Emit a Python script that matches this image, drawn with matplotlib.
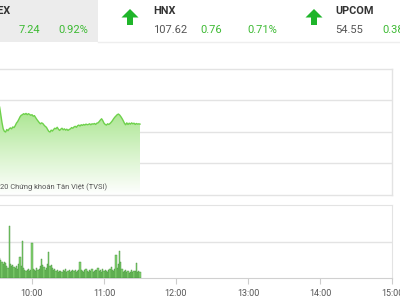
import matplotlib
matplotlib.use("Agg")
import matplotlib.pyplot as plt
import numpy as np
from matplotlib.colors import LinearSegmentedColormap
from matplotlib.patches import Polygon, Rectangle

plt.rcParams['font.family'] = ['Roboto', 'DejaVu Sans']

# ---------------- data ----------------
line_times = ["9:15", "9:20", "9:25", "9:30", "9:33", "9:34", "9:35", "9:36", "9:37", "9:38", "9:39", "9:40",
              "9:41", "9:42", "9:43", "9:44", "9:45", "9:46", "9:47", "9:48", "9:49", "9:50", "9:51", "9:52",
              "9:53", "9:54", "9:55", "9:56", "9:57", "9:58", "9:59", "10:00", "10:01", "10:02", "10:03",
              "10:04", "10:05", "10:06", "10:07", "10:08", "10:09", "10:10", "10:11", "10:12", "10:13",
              "10:14", "10:15", "10:16", "10:17", "10:18", "10:19", "10:20", "10:21", "10:22", "10:23",
              "10:24", "10:25", "10:26", "10:27", "10:28", "10:29", "10:30", "10:31", "10:32", "10:33",
              "10:34", "10:35", "10:36", "10:37", "10:38", "10:39", "10:40", "10:41", "10:42", "10:43",
              "10:44", "10:45", "10:46", "10:47", "10:48", "10:49", "10:50", "10:51", "10:52", "10:53",
              "10:54", "10:55", "10:56", "10:57", "10:58", "10:59", "11:00", "11:01", "11:02", "11:03",
              "11:04", "11:05", "11:06", "11:07", "11:08", "11:09", "11:10", "11:11", "11:12", "11:13",
              "11:14", "11:15", "11:16", "11:17", "11:18", "11:19", "11:20", "11:21", "11:22", "11:23",
              "11:24", "11:25", "11:26", "11:27", "11:28", "11:29", "11:30"]
line_values = [786.0, 788.5, 789.5, 789.5, 788.0, 785.5, 783.0, 781.0, 780.2, 780.0, 780.8, 780.4,
               781.0, 781.3, 781.0, 781.6, 781.4, 782.0, 782.8, 783.3, 784.0, 784.8, 785.3, 785.5,
               785.8, 785.6, 785.9, 785.5, 785.8, 785.6, 785.3, 785.5, 785.0, 785.2, 784.6,
               784.0, 783.5, 783.0, 782.6, 782.9, 782.7, 782.2, 781.8, 781.5, 780.8,
               780.2, 780.0, 780.6, 780.3, 780.8, 781.2, 781.0, 781.5, 780.9, 780.5,
               780.9, 781.2, 780.7, 781.0, 780.6, 780.9, 780.5, 780.8, 781.0, 781.4,
               781.2, 781.6, 781.8, 781.5, 782.0, 782.2, 781.9, 782.3, 782.1, 782.4,
               782.2, 782.5, 782.3, 782.4, 782.6, 782.3, 782.6, 782.5, 782.7, 782.4,
               782.8, 782.9, 783.3, 783.8, 784.2, 783.6, 782.8, 782.4, 782.2, 782.6,
               782.4, 782.7, 783.1, 783.6, 784.2, 784.7, 785.1, 785.5, 785.7, 785.4,
               784.9, 784.3, 783.6, 782.8, 782.3, 782.9, 782.4, 782.8, 782.5, 782.9,
               782.6, 782.8, 782.4, 782.7, 782.5, 782.6, 782.5]

vol_start = "9:33"
volumes = [55, 49, 44, 38, 44, 41, 33, 27, 142, 38,
           33, 36, 30, 27, 33, 25, 38, 58, 33, 101,
           27, 22, 19, 22, 25, 19, 22, 96, 25, 22,
           19, 27, 22, 25, 33, 52, 36, 30, 22, 27,
           38, 71, 33, 36, 27, 22, 25, 19, 22, 16,
           19, 19, 16, 22, 19, 25, 16, 19, 22, 16,
           19, 22, 19, 22, 16, 19, 22, 44, 22, 19,
           16, 22, 25, 19, 16, 22, 19, 25, 16, 19,
           22, 22, 27, 19, 22, 16, 25, 19, 22, 19,
           16, 22, 25, 30, 22, 19, 25, 63, 27, 38,
           74, 44, 25, 16, 19, 22, 16, 19, 14, 16,
           22, 16, 19, 19, 41, 16, 19, 16]

tick_labels = ["10:00", "11:00", "12:00", "13:00", "14:00", "15:00"]

header_names = ["VN-INDEX", "HNX", "UPCOM"]
header_values = ["", "107.62", "54.55"]
header_changes = ["7.24", "0.76", "0.38"]
header_pcts = ["0.92%", "0.71%", "0.70%"]

credit_prefix = "© 20"
credit_rest = "20 Chứng khoán Tân Việt (TVSI)"


def to_min(s):
    h, m = s.split(":")
    return int(h) * 60 + int(m)


lt = np.array([to_min(s) for s in line_times], dtype=float)
lv = np.array(line_values)
vt = to_min(vol_start) + np.arange(len(volumes))
ticks = [to_min(s) for s in tick_labels]

W, H = 400, 300
fig = plt.figure(figsize=(4, 3), dpi=100)
fig.patch.set_facecolor('white')

xmax = 900.0
xmin = xmax - 392 / 72 * 60
grid_c = '#e3e3e3'

# ---------------- price panel ----------------
ax1 = fig.add_axes([0, 1 - 195 / H, 392 / W, (195 - 69) / H])
ax1.set_xlim(xmin, xmax)
ax1.set_ylim(760, 800)
ax1.set_yticks([770, 780, 790])
ax1.yaxis.grid(True, color=grid_c, lw=1)
ax1.set_axisbelow(True)
ax1.tick_params(left=False, labelleft=False, bottom=False, labelbottom=False)
ax1.spines['left'].set_visible(False)
for s in ['top', 'right', 'bottom']:
    ax1.spines[s].set_color(grid_c)
    ax1.spines[s].set_linewidth(1)

verts = np.vstack([[lt[0], 760], np.column_stack([lt, lv]), [lt[-1], 760]])
poly = Polygon(verts, closed=True, facecolor='none', edgecolor='none')
ax1.add_patch(poly)
cmap = LinearSegmentedColormap.from_list('g', ['#ffffff', '#d6f3c9', '#a9e58f'])
grad = np.linspace(0, 1, 256).reshape(-1, 1)
im = ax1.imshow(grad, extent=[lt[0], lt[-1], 760, 787], origin='lower', aspect='auto',
                cmap=cmap, zorder=2)
im.set_clip_path(poly)
ax1.plot(lt, lv, color='#6fd14c', lw=1.0, zorder=3)

# ---------------- volume panel ----------------
ax2 = fig.add_axes([0, 1 - 278 / H, 392 / W, (278 - 205) / H])
ax2.set_xlim(xmin, xmax)
ax2.set_ylim(0, 200)
ax2.set_yticks([100])
ax2.yaxis.grid(True, color=grid_c, lw=1)
ax2.set_axisbelow(True)
ax2.bar(vt, volumes, width=0.85, color='#86d474', edgecolor='#3f8f35', linewidth=0.3, zorder=3)
ax2.spines['left'].set_visible(False)
for s in ['top', 'right']:
    ax2.spines[s].set_color(grid_c)
ax2.spines['bottom'].set_color('#d0d0d0')
ax2.set_xticks(ticks)
ax2.set_xticklabels(tick_labels)
ax2.tick_params(axis='x', length=4, color='#cccccc', labelsize=6.5, labelcolor='#555555', pad=4)
ax2.tick_params(left=False, labelleft=False)

# ---------------- header / overlay ----------------
hx = fig.add_axes([0, 0, 1, 1], zorder=5)
hx.set_xlim(0, W)
hx.set_ylim(H, 0)
hx.axis('off')
hx.patch.set_alpha(0)
hx.add_patch(Rectangle((0, 0), 98, 42, facecolor='#ececec', edgecolor='none'))
hx.plot([98, 400], [42, 42], color='#eeeeee', lw=1)

# credit line, cut at the left edge as in the screenshot
hx.text(0, 187, credit_prefix, ha='right', va='center', fontsize=5.4, color='#555555',
        fontstretch='condensed')
hx.text(0, 187, credit_rest, ha='left', va='center', fontsize=5.4, color='#555555',
        fontstretch='condensed')

green = '#3dba33'
name_fs = 7.8
num_fs = 8
hx.text(11, 11, header_names[0], ha='right', va='center', fontsize=name_fs, fontweight='bold', color='#333333')
hx.text(19, 30, header_changes[0], ha='left', va='center', fontsize=num_fs, color=green)
hx.text(58, 30, header_pcts[0], ha='left', va='center', fontsize=num_fs, color=green)
for bx, ax_c, i in [(153, 130, 1), (335, 314, 2)]:
    hx.text(bx, 11, header_names[i], ha='left', va='center', fontsize=name_fs, fontweight='bold', color='#333333')
    hx.text(bx, 30, header_values[i], ha='left', va='center', fontsize=num_fs, color='#555555')
    hx.text(bx + 47, 30, header_changes[i], ha='left', va='center', fontsize=num_fs, color=green)
    hx.text(bx + 94, 30, header_pcts[i], ha='left', va='center', fontsize=num_fs, color=green)
    arrow = [(ax_c, 9), (ax_c + 8.5, 17.5), (ax_c + 3, 17.5), (ax_c + 3, 25), (ax_c - 3, 25),
             (ax_c - 3, 17.5), (ax_c - 8.5, 17.5)]
    hx.add_patch(Polygon(arrow, closed=True, facecolor='#1fb52a', edgecolor='none'))

fig.savefig('out.png', dpi=100)
